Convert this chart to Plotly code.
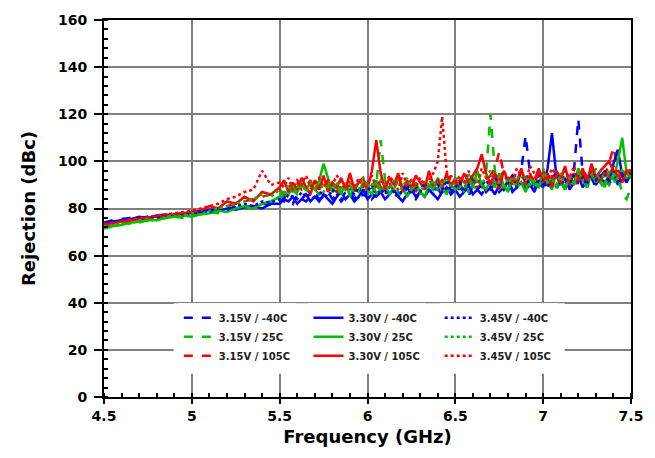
import plotly.graph_objects as go

freq = [4.50, 4.55, 4.60, 4.65, 4.70, 4.75, 4.80, 4.85, 4.90, 4.95,
        5.00, 5.05, 5.10, 5.15, 5.20, 5.25, 5.30, 5.35, 5.40, 5.45,
        5.500, 5.525, 5.550, 5.575, 5.600, 5.625, 5.650, 5.675,
        5.700, 5.725, 5.750, 5.775, 5.800, 5.825, 5.850, 5.875,
        5.900, 5.925, 5.950, 5.975, 6.000, 6.025, 6.050, 6.075,
        6.100, 6.125, 6.150, 6.175, 6.200, 6.225, 6.250, 6.275,
        6.300, 6.325, 6.350, 6.375, 6.400, 6.425, 6.450, 6.475,
        6.500, 6.525, 6.550, 6.575, 6.600, 6.625, 6.650, 6.675,
        6.700, 6.725, 6.750, 6.775, 6.800, 6.825, 6.850, 6.875,
        6.900, 6.925, 6.950, 6.975, 7.000, 7.025, 7.050, 7.075,
        7.100, 7.125, 7.150, 7.175, 7.200, 7.225, 7.250, 7.275,
        7.300, 7.325, 7.350, 7.375, 7.400, 7.425, 7.450, 7.475,
        7.500]

b15 = [74, 75, 75.5, 76, 75.5, 76.5, 77, 76.5, 77.5, 78,
       77.5, 78.5, 79, 78.5, 80, 80.5, 81, 80, 82, 81.5,
       83, 85, 84, 82, 86, 84, 83, 85,
       86, 84, 85, 87, 84, 86, 83, 85,
       87, 84, 86, 85, 88, 84, 86, 85,
       88, 86, 84, 87, 85, 89, 86, 84,
       87, 85, 88, 86, 89, 85, 87, 88,
       86, 89, 87, 85, 90, 88, 86, 89,
       88, 91, 87, 89, 92, 88, 90, 96,
       111, 95, 88, 91, 89, 93, 90, 88,
       92, 89, 94, 96, 118, 95, 90, 93,
       89, 92, 95, 90, 94, 91, 96, 92,
       94]
b30 = [73, 74.5, 75, 75.5, 76.5, 76, 77, 77.5, 77, 78,
       78, 78.5, 79.5, 79, 80, 79.5, 80.5, 81, 80, 82,
       82, 84, 83, 85, 82, 84, 86, 83,
       85, 83, 86, 84, 82, 85, 87, 84,
       86, 83, 85, 88, 84, 86, 85, 87,
       84, 86, 88, 85, 83, 86, 88, 85,
       87, 85, 88, 86, 84, 87, 89, 86,
       88, 85, 87, 90, 86, 88, 91, 87,
       89, 86, 90, 88, 92, 87, 89, 91,
       88, 90, 87, 92, 89, 97, 112, 94,
       90, 93, 88, 91, 94, 89, 92, 95,
       90, 93, 96, 91, 99, 105, 94, 91,
       95]
b45 = [73.5, 74, 75, 76, 75.5, 76.5, 76, 77, 77.5, 77,
       78, 79, 78.5, 80, 79.5, 81, 82, 81, 83, 82.5,
       84, 83, 86, 85, 84, 87, 85, 86,
       84, 87, 86, 85, 88, 86, 84, 87,
       88, 86, 89, 85, 87, 90, 86, 88,
       86, 89, 87, 85, 88, 90, 86, 89,
       87, 91, 88, 86, 90, 88, 92, 87,
       89, 91, 87, 90, 93, 88, 90, 92,
       89, 93, 90, 88, 92, 94, 89, 91,
       93, 90, 88, 94, 91, 89, 93, 95,
       90, 92, 89, 95, 91, 93, 90, 96,
       92, 94, 91, 93, 96, 90, 94, 92,
       93]
g15 = [72, 73, 73.5, 74.5, 74, 75, 75.5, 76, 76.5, 76,
       77, 77.5, 78.5, 78, 79, 80, 79.5, 81, 82, 83,
       84, 86, 85, 88, 86, 87, 89, 86,
       88, 86, 87, 90, 87, 85, 89, 88,
       90, 86, 88, 87, 89, 86, 90, 109,
       92, 86, 89, 85, 88, 91, 86, 89,
       87, 90, 86, 89, 91, 87, 88, 90,
       88, 91, 89, 87, 93, 90, 88, 95,
       120, 96, 89, 91, 88, 94, 90, 92,
       89, 93, 91, 88, 95, 90, 92, 89,
       91, 88, 94, 90, 96, 92, 89, 93,
       97, 91, 88, 93, 90, 95, 86, 84,
       89]
g30 = [71.5, 72.5, 73, 74, 74.5, 75, 75, 76, 76.5, 77,
       76.5, 77.5, 78, 79, 78.5, 80, 81, 80, 82, 83,
       85, 87, 86, 89, 87, 90, 88, 91,
       88, 92, 99, 93, 87, 90, 86, 91,
       85, 89, 87, 91, 88, 86, 92, 87,
       90, 86, 88, 94, 89, 85, 88, 91,
       87, 85, 90, 88, 93, 89, 86, 90,
       88, 91, 87, 93, 89, 96, 90, 88,
       92, 89, 95, 90, 87, 93, 89, 91,
       87, 93, 90, 89, 94, 91, 88, 96,
       91, 88, 94, 90, 97, 92, 89, 95,
       91, 94, 89, 96, 92, 100, 110, 95,
       93]
g45 = [72.5, 73, 74, 73.5, 75, 75.5, 75, 76.5, 77, 76.5,
       78, 77.5, 79, 80, 81, 82, 83, 84, 86, 85,
       88, 86, 90, 87, 89, 91, 87, 90,
       88, 92, 87, 90, 88, 91, 86, 89,
       87, 90, 88, 93, 89, 91, 86, 92,
       90, 88, 92, 87, 89, 93, 88, 90,
       86, 91, 89, 92, 88, 90, 93, 89,
       93, 89, 91, 95, 88, 92, 90, 94,
       96, 89, 91, 88, 93, 90, 94, 91,
       94, 90, 92, 89, 97, 91, 93, 90,
       95, 89, 93, 91, 96, 92, 90, 94,
       93, 96, 92, 90, 95, 92, 97, 93,
       94]
r15 = [72.5, 73.5, 74, 74.5, 75.5, 75, 76, 76.5, 77, 77.5,
       78, 78.5, 79.5, 80, 81, 82, 83, 84, 85, 86,
       88, 86, 90, 87, 91, 88, 89, 92,
       87, 90, 88, 92, 89, 87, 91, 88,
       90, 87, 92, 89, 91, 88, 93, 89,
       88, 91, 87, 93, 89, 90, 92, 87,
       91, 89, 93, 88, 90, 92, 89, 94,
       90, 92, 88, 94, 90, 93, 89, 92,
       94, 97, 104, 95, 91, 93, 90, 96,
       92, 95, 90, 96, 92, 89, 94, 91,
       93, 97, 91, 94, 89, 97, 93, 95,
       92, 96, 94, 99, 106, 97, 92, 95,
       95]
r30 = [73, 73.5, 74.5, 75, 75.5, 76, 76.5, 77, 77.5, 78,
       78.5, 79, 81, 80, 83, 82, 85, 83, 87, 86,
       89, 92, 87, 91, 88, 93, 89, 86,
       92, 88, 94, 87, 91, 89, 93, 88,
       95, 88, 91, 93, 88, 96, 109, 95,
       88, 93, 90, 95, 87, 92, 89, 94,
       91, 88, 96, 90, 92, 88, 95, 89,
       93, 89, 95, 91, 94, 97, 103, 95,
       90, 95, 88, 96, 92, 94, 91, 97,
       90, 94, 92, 97, 91, 95, 89, 96,
       93, 98, 90, 95, 92, 97, 91, 99,
       93, 96, 98, 100, 96, 94, 91, 96,
       96]
r45 = [73.5, 74, 74.5, 75.5, 76, 76.5, 77, 77.5, 78, 78.5,
       79, 80, 81, 82, 84, 85, 87, 88, 96, 90,
       91, 89, 93, 88, 92, 90, 94, 89,
       91, 93, 89, 92, 90, 94, 91, 88,
       92, 89, 93, 90, 91, 94, 89, 92,
       90, 94, 91, 88, 95, 90, 92, 89,
       93, 90, 92, 95, 100, 119, 96, 91,
       90, 94, 91, 96, 92, 89, 97, 93,
       90, 95, 92, 96, 93, 90, 97, 94,
       91, 98, 95, 93, 96, 92, 97, 94,
       90, 96, 93, 98, 91, 95, 92, 97,
       94, 91, 96, 93, 98, 95, 92, 96,
       96]

x_ticks = [4.5, 5, 5.5, 6, 6.5, 7, 7.5]
x_tick_labels = ["4.5", "5", "5.5", "6", "6.5", "7", "7.5"]

# (name, values, colour, dash, width, legend column)
series = [
    ("3.15V / -40C", b15, "#0000FF", "dash", 2.5, "legend"),
    ("3.15V / 25C", g15, "#00C000", "dash", 2.5, "legend"),
    ("3.15V / 105C", r15, "#FF0000", "dash", 2.5, "legend"),
    ("3.30V / -40C", b30, "#0000FF", "solid", 2.5, "legend2"),
    ("3.30V / 25C", g30, "#00C000", "solid", 2.5, "legend2"),
    ("3.30V / 105C", r30, "#FF0000", "solid", 2.5, "legend2"),
    ("3.45V / -40C", b45, "#0000FF", "dot", 2.5, "legend3"),
    ("3.45V / 25C", g45, "#00C000", "dot", 2.5, "legend3"),
    ("3.45V / 105C", r45, "#FF0000", "dot", 2.5, "legend3"),
]

fig = go.Figure()
for name, vals, col, dash, w, lg in series:
    fig.add_trace(go.Scatter(x=freq, y=vals, mode="lines", name=name,
                             legend=lg, legendgroup=name,
                             line=dict(color=col, dash=dash, width=w)))

font_family = "DejaVu Sans, Verdana, sans-serif"
legend_font = dict(size=10, family=font_family, color="#222", weight="bold")
legend_common = dict(orientation="v", y=0.249, yanchor="top", xanchor="left",
                     bgcolor="white", font=legend_font, tracegroupgap=4,
                     traceorder="normal")

fig.update_layout(
    width=655, height=458,
    margin=dict(l=104, r=12, t=12, b=61),
    paper_bgcolor="white", plot_bgcolor="white",
    font=dict(family=font_family, color="black"),
    showlegend=True,
    legend=dict(x=0.142, **legend_common),
    legend2=dict(x=0.388, **legend_common),
    legend3=dict(x=0.637, **legend_common),
    shapes=[dict(type="rect", xref="paper", yref="paper",
                 x0=0.132, x1=0.874, y0=0.062, y1=0.249,
                 fillcolor="white", line=dict(width=0), layer="above")],
    xaxis=dict(range=[4.5, 7.5], tickvals=x_ticks, ticktext=x_tick_labels,
               showgrid=True, gridcolor="#7f7f7f", gridwidth=1.5,
               showline=True, linecolor="black", linewidth=2, mirror=True,
               ticks="outside", ticklen=5, tickcolor="black", tickwidth=1.5,
               tickfont=dict(size=14, family=font_family, weight="bold"),
               minor=dict(dtick=0.1, ticks="inside", ticklen=4, tickcolor="black", showgrid=False),
               title=dict(text="<b>Frequency (GHz)</b>", font=dict(size=18), standoff=8),
               zeroline=False),
    yaxis=dict(range=[0, 160], dtick=20,
               showgrid=True, gridcolor="#7f7f7f", gridwidth=1.5,
               showline=True, linecolor="black", linewidth=2, mirror=True,
               ticks="outside", ticklen=8, tickcolor="black", tickwidth=1.5,
               ticklabelstandoff=4,
               tickfont=dict(size=14, family=font_family, weight="bold"),
               minor=dict(dtick=4, ticks="inside", ticklen=4, tickcolor="black", showgrid=False),
               title=dict(text="<b>Rejection (dBc)</b>", font=dict(size=18), standoff=18),
               zeroline=False),
)

fig.write_html("out.html")
